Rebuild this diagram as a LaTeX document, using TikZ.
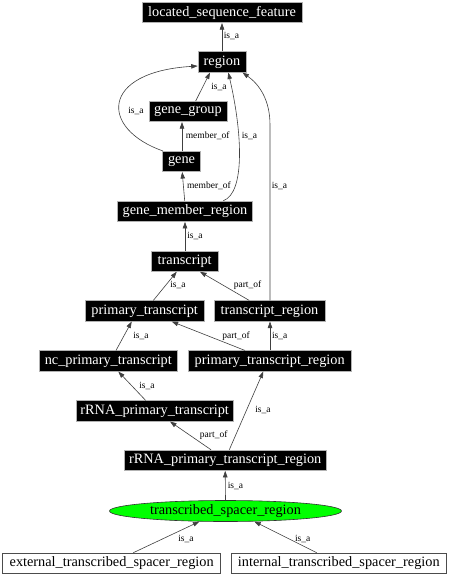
\documentclass[tikz,border=0pt]{standalone}
\usepackage{fontspec}
\setmainfont{Liberation Serif}
\usetikzlibrary{arrows.meta,shapes.geometric}
\begin{document}
\begin{tikzpicture}[x=1pt,y=-1pt,
  blk/.style={rectangle, fill=black, draw=gray!60, line width=0.6pt, text=white,
    inner sep=0pt, font=\fontsize{14.3}{16}\selectfont, minimum height=20.5pt},
  wht/.style={rectangle, fill=white, draw=black!70, line width=0.6pt, text=black,
    inner sep=0pt, font=\fontsize{14.3}{16}\selectfont, minimum height=20pt},
  ell/.style={ellipse, fill=green, draw=black!80, line width=0.6pt, text=black,
    inner sep=0pt, font=\fontsize{14.3}{16}\selectfont, minimum width=232pt, minimum height=21pt},
  e/.style={draw=black!75, line width=0.6pt, -{Triangle[length=6.5pt,width=4.5pt]}},
  lab/.style={font=\fontsize{9.5}{11}\selectfont, inner sep=0pt, text=black}
]
\useasboundingbox (0,0) rectangle (449,576);

% nodes
\node[blk, minimum width=160pt]   (lsf)  at (222,12.5)   {located\_sequence\_feature};
\node[blk, minimum width=48pt]    (reg)  at (222,62)     {region};
\node[blk, minimum width=78pt]    (gg)   at (188,111.5)  {gene\_group};
\node[blk, minimum width=38.5pt]  (gene) at (181.5,161.5){gene};
\node[blk, minimum width=135.5pt] (gmr)  at (185,211.3)  {gene\_member\_region};
\node[blk, minimum width=67.3pt]  (tr)   at (184.7,261.2){transcript};
\node[blk, minimum width=119.3pt] (pt)   at (144.7,311)  {primary\_transcript};
\node[blk, minimum width=111pt]   (trr)  at (269.5,311)  {transcript\_region};
\node[blk, minimum width=138.7pt] (nc)   at (108.3,361)  {nc\_primary\_transcript};
\node[blk, minimum width=162.7pt] (ptr)  at (269.7,361)  {primary\_transcript\_region};
\node[blk, minimum width=157.3pt] (rpt)  at (154.7,411)  {rRNA\_primary\_transcript};
\node[blk, minimum width=201.7pt] (rptr) at (225.2,460.3){rRNA\_primary\_transcript\_region};
\node[ell]                        (tsr)  at (225.5,511)  {transcribed\_spacer\_region};
\node[wht, minimum width=218pt]   (ext)  at (111.7,563)  {external\_transcribed\_spacer\_region};
\node[wht, minimum width=215.7pt] (int)  at (338.8,563)  {internal\_transcribed\_spacer\_region};

% edges
\draw[e] (reg.north) -- (lsf.south);
\draw[e] ([xshift=7.7pt]gg.north) -- ([xshift=-12pt]reg.south);
\draw[e] ([xshift=1pt]gene.north west) .. controls +(-63,-22) and +(-98,6) .. ([yshift=-4pt]reg.west);
\draw[e] ([xshift=0.5pt]gene.north) -- ([xshift=-6pt]gg.south);
\draw[e] ([xshift=-0.3pt]gmr.north) -- ([xshift=0.7pt]gene.south);
\draw[e] ([xshift=38.3pt]gmr.north) .. controls +(22,-8) and +(14,60) .. ([xshift=6.3pt]reg.south);
\coordinate (trb) at (270,125);
\draw[e] ([xshift=0.5pt]trr.north) -- (trb) .. controls +(0,-25) and +(17,12) .. ([xshift=20.5pt]reg.south);
\draw[e] ([xshift=0.3pt]tr.north) -- (gmr.south);
\draw[e] ([xshift=8.6pt]pt.north) -- ([xshift=-8pt]tr.south);
\draw[e] ([xshift=-20.2pt]trr.north) -- ([xshift=15.3pt]tr.south);
\draw[e] ([xshift=7.7pt]nc.north) -- ([xshift=-13pt]pt.south);
\draw[e] ([xshift=-24.7pt]ptr.north) -- ([xshift=27pt]pt.south);
\draw[e] ([xshift=0.3pt]ptr.north) -- ([xshift=0.5pt]trr.south);
\draw[e] ([xshift=-9pt]rpt.north) -- ([xshift=10pt]nc.south);
\draw[e] ([xshift=-14.2pt]rptr.north) -- ([xshift=15.3pt]rpt.south);
\draw[e] ([xshift=4.1pt]rptr.north) -- ([xshift=-6.4pt]ptr.south);
\draw[e] (tsr.north) -- (rptr.south);
\draw[e] ([xshift=21.6pt]ext.north) -- (tsr.202);
\draw[e] ([xshift=-22.1pt]int.north) -- (tsr.-20);

% labels
\node[lab] (l1)  at (231.5,36)  {is\_a};
\node[lab] (l2)  at (219,86.5)  {is\_a};
\node[lab] (l3)  at (136,111)   {is\_a};
\node[lab] (l4)  at (207.7,136) {member\_of};
\node[lab] (l5)  at (249.5,136) {is\_a};
\node[lab] (l6)  at (209,186)   {member\_of};
\node[lab] (l7)  at (279.5,186) {is\_a};
\node[lab] (l8)  at (195,236)   {is\_a};
\node[lab] (l9)  at (178,285)   {is\_a};
\node[lab] (l10) at (247.5,285) {part\_of};
\node[lab] (l11) at (141,335.7) {is\_a};
\node[lab] (l12) at (236,335.7) {part\_of};
\node[lab] (l13) at (279.7,335.7) {is\_a};
\node[lab] (l14) at (147,385.7) {is\_a};
\node[lab] (l15) at (213.7,435) {part\_of};
\node[lab] (l16) at (263,410)   {is\_a};
\node[lab] (l17) at (235.5,485.7) {is\_a};
\node[lab] (l18) at (186,539)   {is\_a};
\node[lab] (l19) at (302.7,539) {is\_a};
\end{tikzpicture}
\end{document}
